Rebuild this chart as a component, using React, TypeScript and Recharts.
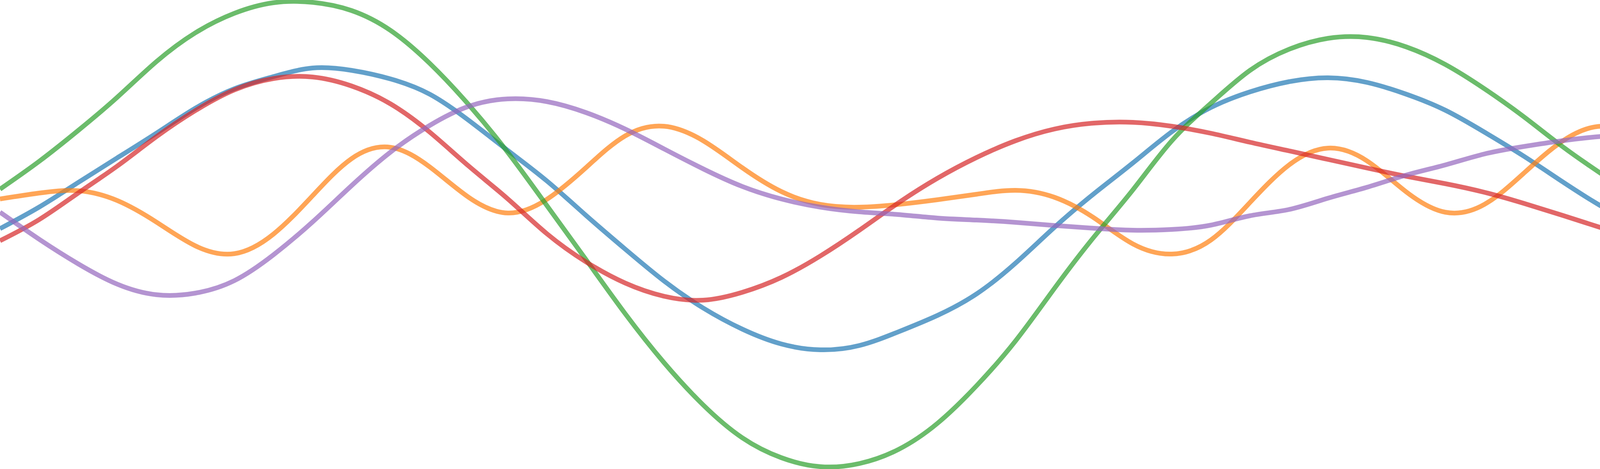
import { LineChart, Line, XAxis, YAxis } from "recharts";

const xs = [
  0, 100, 200, 300, 400, 500, 600, 700, 800, 900, 1000, 1100, 1200,
  1300, 1400, 1500, 1600, 1700, 1800, 1900, 2000, 2100, 2200, 2300, 2400,
  2500, 2600, 2700, 2800, 2900, 3000, 3100, 3200, 3300, 3400, 3500, 3600,
  3700, 3800, 3900, 4000, 4100, 4200, 4300, 4400, 4500, 4600, 4700, 4800,
];

const blue = [
  0.075, 0.35, 0.665, 0.98, 1.295, 1.615, 1.865, 2.02, 2.13, 2.1, 1.99, 1.795, 1.46,
  1.075, 0.685, 0.245, -0.185, -0.595, -0.94, -1.21, -1.4, -1.475, -1.42, -1.245, -1.035,
  -0.76, -0.365, 0.095, 0.52, 0.915, 1.315, 1.625, 1.825, 1.955, 2.005, 1.945, 1.795,
  1.59, 1.31, 1.005, 0.675, 0.36, 0.09, -0.14, -0.285, -0.35, -0.32, -0.195, 0.005,
];

const orange = [
  0.455, 0.53, 0.56, 0.435, 0.16, -0.145, -0.245, 0.005, 0.495, 0.97, 1.115, 0.865, 0.475,
  0.275, 0.45, 0.855, 1.26, 1.385, 1.2, 0.855, 0.55, 0.385, 0.35, 0.385, 0.445,
  0.515, 0.565, 0.475, 0.215, -0.12, -0.25, -0.07, 0.41, 0.89, 1.105, 0.94, 0.545,
  0.285, 0.385, 0.78, 1.195, 1.385, 1.23, 0.89, 0.58, 0.4, 0.345, 0.375, 0.425,
];

const green = [
  0.58, 0.935, 1.33, 1.755, 2.21, 2.58, 2.83, 2.965, 2.97, 2.865, 2.61, 2.19, 1.66,
  1.05, 0.37, -0.32, -1.01, -1.64, -2.18, -2.6, -2.855, -2.97, -2.93, -2.75, -2.415,
  -1.935, -1.36, -0.685, -0.035, 0.57, 1.2, 1.68, 2.1, 2.37, 2.51, 2.52, 2.4,
  2.175, 1.865, 1.51, 1.125, 0.775, 0.455, 0.205, 0.045, -0.025, 0.025, 0.215, 0.495,
];

const red = [
  -0.08, 0.19, 0.53, 0.875, 1.25, 1.585, 1.85, 1.995, 2.015, 1.9, 1.67, 1.31, 0.875,
  0.455, 0.01, -0.35, -0.62, -0.79, -0.84, -0.74, -0.55, -0.275, 0.055, 0.405, 0.72,
  0.985, 1.2, 1.35, 1.425, 1.435, 1.385, 1.295, 1.18, 1.07, 0.96, 0.85, 0.745,
  0.65, 0.54, 0.4, 0.245, 0.085, -0.075, -0.22, -0.35, -0.43, -0.42, -0.33, -0.145,
];

const purple = [
  0.285, -0.06, -0.375, -0.635, -0.77, -0.75, -0.59, -0.26, 0.16, 0.625, 1.055, 1.395, 1.64,
  1.735, 1.7, 1.56, 1.35, 1.095, 0.84, 0.615, 0.455, 0.35, 0.29, 0.255, 0.21,
  0.185, 0.155, 0.115, 0.08, 0.055, 0.065, 0.12, 0.24, 0.32, 0.465, 0.605, 0.76,
  0.89, 1.03, 1.125, 1.2, 1.255, 1.285, 1.295, 1.26, 1.18, 1.01, 0.76, 0.405,
];

// drawn in this order, tab10 colours at 0.7 alpha
const series = [
  { key: "blue", color: "#1f77b4", values: blue },
  { key: "orange", color: "#ff7f0e", values: orange },
  { key: "green", color: "#2ca02c", values: green },
  { key: "red", color: "#d62728", values: red },
  { key: "purple", color: "#9467bd", values: purple },
];

const data = xs.map((x, i) => {
  const row: Record<string, number> = { x };
  series.forEach((s) => {
    row[s.key] = s.values[i];
  });
  return row;
});

export default function App() {
  return (
    <div style={{ position: "absolute", left: 0, top: 0, background: "#fff" }}>
      <LineChart
        width={4800}
        height={1200}
        data={data}
        margin={{ top: 0, right: 0, bottom: 0, left: 0 }}
      >
        <XAxis dataKey="x" type="number" domain={[0, 4800]} hide />
        <YAxis type="number" domain={[-3, 3]} hide />
        {series.map((s) => (
          <Line
            key={s.key}
            type="natural"
            dataKey={s.key}
            stroke={s.color}
            strokeOpacity={0.7}
            strokeWidth={12}
            strokeLinejoin="round"
            dot={false}
            activeDot={false}
            isAnimationActive={false}
          />
        ))}
      </LineChart>
    </div>
  );
}
